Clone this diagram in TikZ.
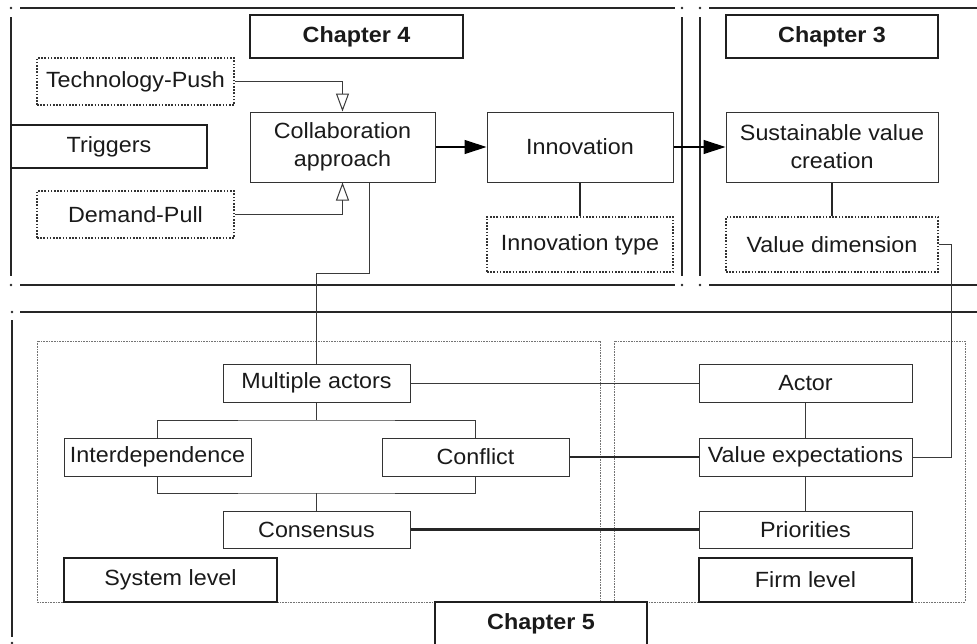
\documentclass[tikz,border=0pt]{standalone}
\usepackage{fontspec}
\setmainfont{Liberation Sans}[FakeStretch=1.06]
\usetikzlibrary{arrows.meta}
\definecolor{ink}{HTML}{1A1A1A}
\definecolor{edge}{HTML}{333333}
\definecolor{wirec}{HTML}{3A3A3A}
\tikzset{
  box/.style={draw=edge, line width=1pt, fill=white, inner sep=0pt, text=ink, align=center, font=\fontsize{22}{28}\selectfont},
  dotbox/.style={box, dash pattern=on 1.6pt off 1.6pt, line width=1.5pt},
  thickbox/.style={box, line width=2.3pt, draw=black!88},
  chap/.style={thickbox, font=\bfseries\fontsize{22}{28}\selectfont},
  region/.style={draw=black!55, line width=0.7pt, dash pattern=on 0.8pt off 0.8pt},
  frame/.style={line width=1.8pt, draw=black!85},
  wire/.style={draw=wirec, line width=1pt},
  thickwire/.style={draw=black!85, line width=2.2pt},
  openhead/.style={-{Triangle[open,length=18pt,width=13pt]}},
  fullhead/.style={draw=black, line width=1.2pt, -{Triangle[length=22pt,width=14pt]}},
}
\begin{document}
\begin{tikzpicture}[x=1pt,y=-1pt]
\useasboundingbox[fill=white] (0,0) rectangle (977,643);
% chapter frames
\draw[frame] (20,8) -- (675,8);
\draw[frame] (20,285) -- (675,285);
\draw[frame] (11,17) -- (11,276);
\draw[frame] (682,17) -- (682,276);
\draw[frame] (709,8) -- (977,8);
\draw[frame] (709,285) -- (977,285);
\draw[frame] (700,17) -- (700,276);
\draw[frame] (20,312) -- (977,312);
\draw[frame] (12,320) -- (12,637);
\foreach \p in {(11,8),(11,285),(682,8),(682,285),(700,8),(700,285),(12,312),(12,643)}
  \fill[black!85] \p circle (1.3pt);
% level regions
\draw[region] (37,341) rectangle (600,602);
\draw[region] (614,341) rectangle (965,602);
% coordinates for bends
\coordinate (bend) at (316.5,273);
\coordinate (vturn) at (951,244.5);
\coordinate (t1) at (316.5,420);
\coordinate (t2) at (316.5,493);
% nodes
\node[chap, minimum width=213, minimum height=43] (ch4) at (356.5,36.5) {Chapter 4};
\node[chap, minimum width=212, minimum height=43] (ch3) at (832,36.5) {Chapter 3};
\node[dotbox, minimum width=197, minimum height=47] (tech) at (135.5,81.5) {Technology-Push};
\node[thickbox, minimum width=196, minimum height=43] (trig) at (109,146.5) {Triggers};
\node[dotbox, minimum width=197, minimum height=47] (dem) at (135.5,214.5) {Demand-Pull};
\node[box, minimum width=185, minimum height=70] (collab) at (342.5,147) {Collaboration\\approach};
\node[box, minimum width=186, minimum height=70] (innov) at (580,147) {Innovation};
\node[dotbox, minimum width=186, minimum height=55] (itype) at (580,244.5) {Innovation type};
\node[box, minimum width=212, minimum height=70] (svc) at (832,147) {Sustainable value\\creation};
\node[dotbox, minimum width=212, minimum height=55] (vdim) at (832,244.5) {Value dimension};
\node[box, minimum width=187, minimum height=38] (multi) at (316.5,383) {Multiple actors};
\node[box, minimum width=187, minimum height=38] (inter) at (157.5,457) {Interdependence};
\node[box, minimum width=187, minimum height=38] (conf) at (475.5,457) {Conflict};
\node[box, minimum width=187, minimum height=37] (cons) at (316.5,529.5) {Consensus};
\node[thickbox, minimum width=213, minimum height=44] (sys) at (170.5,580) {System level};
\node[box, minimum width=213, minimum height=38] (actor) at (805.5,383) {Actor};
\node[box, minimum width=213, minimum height=38] (vexp) at (805.5,457) {Value expectations};
\node[box, minimum width=213, minimum height=37] (prio) at (805.5,529.5) {Priorities};
\node[thickbox, minimum width=213, minimum height=44] (firm) at (805.5,580) {Firm level};
\node[chap, minimum width=212, minimum height=43] (ch5) at (541,623.5) {Chapter 5};
% connectors
\draw[wire, openhead] (tech.east) -| (collab.north);
\draw[wire, openhead] (dem.east) -| (collab.south);
\draw[fullhead] (collab.east) -- (innov.west);
\draw[fullhead] (innov.east) -- (svc.west);
\draw[thickwire] (innov.south) -- (itype.north);
\draw[thickwire] (svc.south) -- (vdim.north);
\draw[wire] ([xshift=26.5pt]collab.south) |- (bend) -- (multi.north);
\draw[wire] (vdim.east) -- (vturn) |- (vexp.east);
\draw[wire] (multi.south) -- (t1);
\draw[wire] (inter.north) |- (t1) -| (conf.north);
\draw[wire] (inter.south) |- (t2) -| (conf.south);
\draw[wire] (t2) -- (cons.north);
\draw[wire] (multi.east) -- (actor.west);
\draw[wire] (actor.south) -- (vexp.north);
\draw[wire] (vexp.south) -- (prio.north);
\draw[thickwire] (conf.east) -- (vexp.west);
\draw[thickwire] (cons.east) -- (prio.west);
\end{tikzpicture}
\end{document}
